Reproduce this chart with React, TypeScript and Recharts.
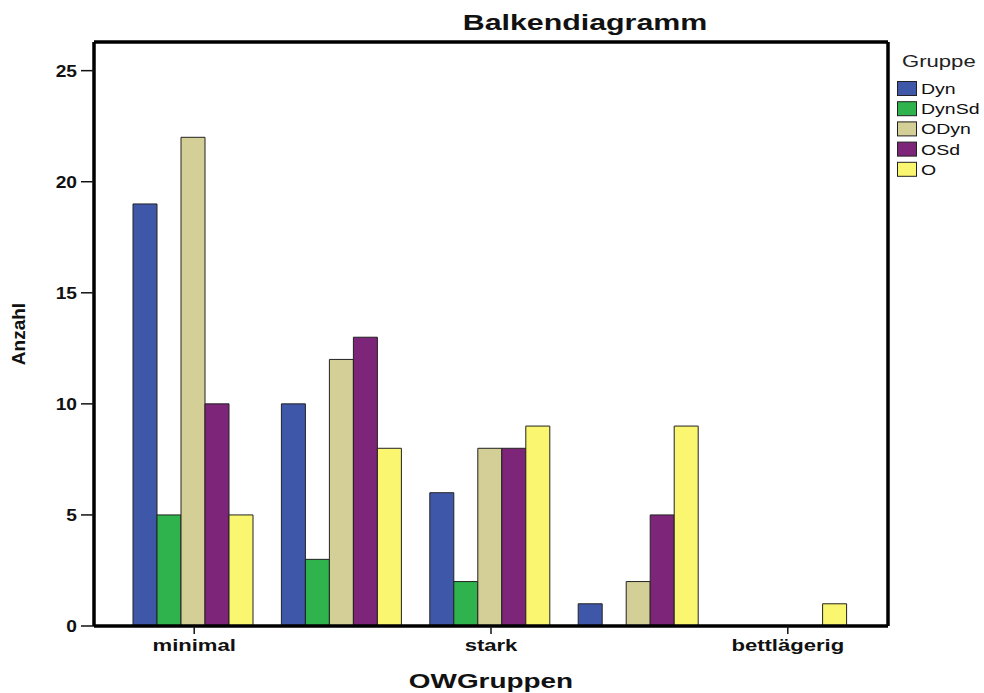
import { Bar, BarChart, Label, XAxis, YAxis } from 'recharts';

// OWGruppen categories (only every other one is labelled in the original)
const categories = ['minimal', 'mäßig', 'stark', 'sehr stark', 'bettlägerig'];

const dyn = [19, 10, 6, 1, 0];
const dynSd = [5, 3, 2, 0, 0];
const oDyn = [22, 12, 8, 2, 0];
const oSd = [10, 13, 8, 5, 0];
const o = [5, 8, 9, 9, 1];

const groups = ['Dyn', 'DynSd', 'ODyn', 'OSd', 'O'];
const groupColors = ['#3f57a9', '#2fb34c', '#d4ce97', '#7d2679', '#fbf66f'];
const yTicks = [0, 5, 10, 15, 20, 25];
const yMax = 26.29;

const FONT = '"Liberation Sans", Arial, sans-serif';

const data = categories.map((name, i) => ({
  name,
  Dyn: dyn[i],
  DynSd: dynSd[i],
  ODyn: oDyn[i],
  OSd: oSd[i],
  O: o[i],
}));

type TickProps = { x?: number; y?: number; payload?: { value: string | number } };

function XTick({ x = 0, y = 0, payload }: TickProps) {
  return (
    <text
      transform={`translate(${x},${y + 15}) scale(1.38,1)`}
      textAnchor="middle"
      fontFamily={FONT}
      fontWeight="bold"
      fontSize={16}
      fill="#111"
    >
      {payload?.value}
    </text>
  );
}

function YTick({ x = 0, y = 0, payload }: TickProps) {
  return (
    <text
      transform={`translate(${x - 2},${y + 6}) scale(1.2,1)`}
      textAnchor="end"
      fontFamily={FONT}
      fontWeight="bold"
      fontSize={16}
      fill="#111"
    >
      {payload?.value}
    </text>
  );
}

function Overlay() {
  return (
    <svg width={984} height={693} style={{ position: 'absolute', left: 0, top: 0, pointerEvents: 'none' }}>
      <text
        transform="translate(585,30) scale(1.38,1)"
        textAnchor="middle"
        fontFamily={FONT}
        fontWeight="bold"
        fontSize={22}
        fill="#111"
      >
        Balkendiagramm
      </text>
      <text transform="translate(902,67) scale(1.3,1)" fontFamily={FONT} fontSize={17} fill="#222">
        Gruppe
      </text>
      {groups.map((g, i) => (
        <g key={g}>
          <rect x={897.5} y={81.5 + i * 20.2} width={19} height={14} fill={groupColors[i]} stroke="#222" strokeWidth={1} />
          <text
            transform={`translate(921,${94 + i * 20.2}) scale(1.3,1)`}
            fontFamily={FONT}
            fontSize={15}
            fill="#111"
          >
            {g}
          </text>
        </g>
      ))}
    </svg>
  );
}

export default function App() {
  return (
    <div style={{ position: 'absolute', left: 0, top: 0, width: 984, height: 693, background: '#fff' }}>
      <BarChart
        width={984}
        height={693}
        data={data}
        margin={{ top: 41, right: 95, bottom: 0, left: 0 }}
        barCategoryGap={13}
        barGap={0}
      >
        <XAxis
          dataKey="name"
          height={67}
          interval={1}
          padding={{ left: 26, right: 26 }}
          axisLine={{ stroke: '#000', strokeWidth: 3.5 }}
          tickLine={{ stroke: '#111', strokeWidth: 1.5 }}
          tickSize={8}
          tick={<XTick />}
        >
          <Label
            content={({ viewBox }: any) => (
              <text
                transform={`translate(${viewBox.x + viewBox.width / 2},688) scale(1.33,1)`}
                textAnchor="middle"
                fontFamily={FONT}
                fontWeight="bold"
                fontSize={21}
                fill="#111"
              >
                OWGruppen
              </text>
            )}
          />
        </XAxis>
        <XAxis
          xAxisId="top"
          type="number"
          domain={[0, 1]}
          orientation="top"
          height={1}
          tick={false}
          tickLine={false}
          axisLine={{ stroke: '#000', strokeWidth: 3.5 }}
        />
        <YAxis
          width={94}
          domain={[0, yMax]}
          ticks={yTicks}
          allowDataOverflow
          axisLine={{ stroke: '#000', strokeWidth: 3.5 }}
          tickLine={{ stroke: '#111', strokeWidth: 1.5 }}
          tickSize={13}
          tick={<YTick />}
        >
          <Label
            content={({ viewBox }: any) => (
              <text
                transform={`translate(25,${viewBox.y + viewBox.height / 2}) rotate(-90)`}
                textAnchor="middle"
                fontFamily={FONT}
                fontWeight="bold"
                fontSize={19}
                fill="#111"
              >
                Anzahl
              </text>
            )}
          />
        </YAxis>
        <YAxis
          yAxisId="right"
          orientation="right"
          type="number"
          domain={[0, yMax]}
          width={1}
          tick={false}
          tickLine={false}
          axisLine={{ stroke: '#000', strokeWidth: 3.5 }}
        />
        {groups.map((g, i) => (
          <Bar key={g} dataKey={g} fill={groupColors[i]} stroke="#222" strokeWidth={1} isAnimationActive={false} />
        ))}
      </BarChart>
      <Overlay />
    </div>
  );
}
